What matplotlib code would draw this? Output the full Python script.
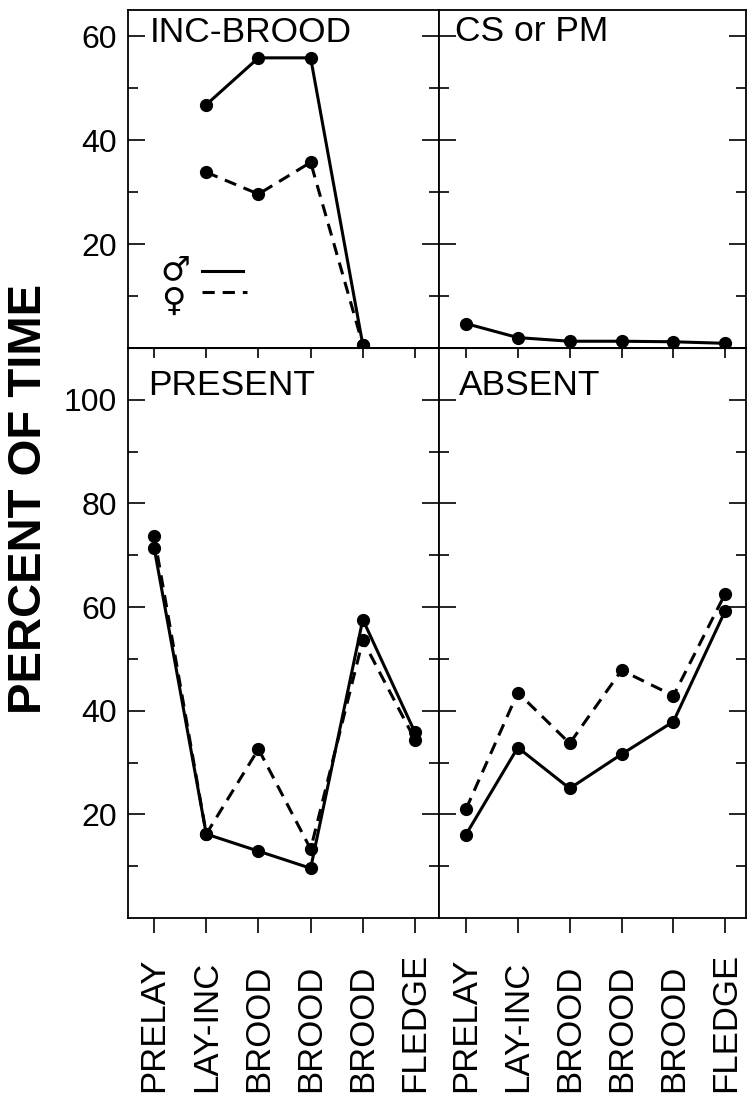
import numpy as np
import matplotlib.pyplot as plt
from matplotlib.lines import Line2D
from matplotlib.transforms import blended_transform_factory

# stages along the nesting cycle
stages = ["PRELAY", "LAY-INC", "BROOD", "BROOD", "BROOD", "FLEDGE"]

# percent of time, male (solid) and female (dashed)
inc_male = [np.nan, 46.8, 55.8, 55.8, 0.6, np.nan]
inc_female = [np.nan, 33.8, 29.6, 35.7, 0.6, np.nan]
cs_pm = [4.7, 2.0, 1.3, 1.3, 1.2, 0.9]
present_male = [71.5, 16.2, 12.9, 9.6, 57.6, 35.8]
present_female = [73.8, 16.2, 32.6, 13.3, 53.6, 34.4]
absent_male = [16.1, 32.9, 25.0, 31.6, 37.9, 59.3]
absent_female = [21.0, 43.5, 33.7, 47.8, 42.9, 62.6]

FONT = "Liberation Sans"
plt.rcParams["font.family"] = [FONT, "DejaVu Sans"]

W, H = 748, 1097
fig = plt.figure(figsize=(W / 100, H / 100), dpi=100)


def px_axes(x0, y0, x1, y1):
    return fig.add_axes([x0 / W, 1 - y1 / H, (x1 - x0) / W, (y1 - y0) / H])


ax_inc = px_axes(128, 10, 439, 348)
ax_cs = px_axes(439, 10, 746, 348)
ax_pre = px_axes(128, 348, 439, 918)
ax_abs = px_axes(439, 348, 746, 918)

x = np.arange(len(stages))
lw = 2.2
ms = 8.5
dash = (0, (4, 2.6))


def draw(ax, vals, ls="-"):
    ax.plot(x, vals, color="black", lw=lw, ls=ls, marker="o", ms=ms,
            markerfacecolor="black", markeredgecolor="black",
            clip_on=False, zorder=3)


draw(ax_inc, inc_male)
draw(ax_inc, inc_female, dash)
draw(ax_cs, cs_pm)
draw(ax_pre, present_male)
draw(ax_pre, present_female, dash)
draw(ax_abs, absent_male)
draw(ax_abs, absent_female, dash)

for ax in (ax_inc, ax_pre):
    ax.set_xlim(-0.5, 5.46)
for ax in (ax_cs, ax_abs):
    ax.set_xlim(-0.52, 5.4)
for ax in (ax_inc, ax_cs):
    ax.set_ylim(0, 65)
    ax.set_yticks([20, 40, 60])
    ax.set_yticks([10, 30, 50], minor=True)
    ax.set_xticks([])
for ax in (ax_pre, ax_abs):
    ax.set_ylim(0, 110)
    ax.set_yticks([20, 40, 60, 80, 100])
    ax.set_yticks([10, 30, 50, 70, 90], minor=True)
    ax.set_xticks(x)
    ax.set_xticklabels([])
    ax.tick_params(axis="x", which="major", direction="out", length=10.8,
                   width=1.2, top=False, bottom=True)
    # inward ticks on the top edge
    sec = ax.secondary_xaxis("top")
    sec.set_xticks(x)
    sec.set_xticklabels([])
    sec.tick_params(direction="in", length=7.5, width=1.2)

for ax in (ax_inc, ax_cs, ax_pre, ax_abs):
    for s in ax.spines.values():
        s.set_linewidth(1.3)
    ax.tick_params(axis="y", which="both", direction="in", left=True,
                   right=True, width=1.2)
    ax.tick_params(axis="y", which="major", length=12, labelsize=23, pad=8)
    ax.tick_params(axis="y", which="minor", length=7.5)

for ax in (ax_cs, ax_abs):
    ax.tick_params(axis="y", which="both", labelleft=False)

# panel titles
title_kw = dict(fontsize=25.5, ha="left", va="baseline")
ax_inc.text(0.071, 0.905, "INC-BROOD", transform=ax_inc.transAxes, **title_kw)
ax_cs.text(0.052, 0.908, "CS or PM", transform=ax_cs.transAxes, **title_kw)
ax_pre.text(0.064, 0.9175, "PRESENT", transform=ax_pre.transAxes, **title_kw)
ax_abs.text(0.065, 0.9175, "ABSENT", transform=ax_abs.transAxes, **title_kw)

# sex key, drawn by hand like the original
key_kw = dict(transform=ax_inc.transAxes, ha="left", va="center",
              family="DejaVu Sans", fontsize=24)
ax_inc.text(0.105, 0.232, "\u2642", **key_kw)
ax_inc.text(0.105, 0.137, "\u2640", **key_kw)
ax_inc.add_line(Line2D([0.238, 0.370], [0.228, 0.228], color="black", lw=lw,
                       transform=ax_inc.transAxes))
ax_inc.add_line(Line2D([0.238, 0.383], [0.166, 0.166], color="black", lw=lw,
                       ls=dash, transform=ax_inc.transAxes))

# stage labels under the bottom panels, aligned at their start
for ax in (ax_pre, ax_abs):
    tr = blended_transform_factory(ax.transData, fig.transFigure)
    for i, name in enumerate(stages):
        ax.text(x[i], 1 - 1092 / H, name, transform=tr, rotation=90,
                ha="center", va="bottom", fontsize=25)

fig.text(29 / W, 1 - 499 / H, "PERCENT OF TIME", rotation=90, ha="center",
         va="center", fontsize=34, fontweight="bold")

fig.savefig("out.png", dpi=100)
